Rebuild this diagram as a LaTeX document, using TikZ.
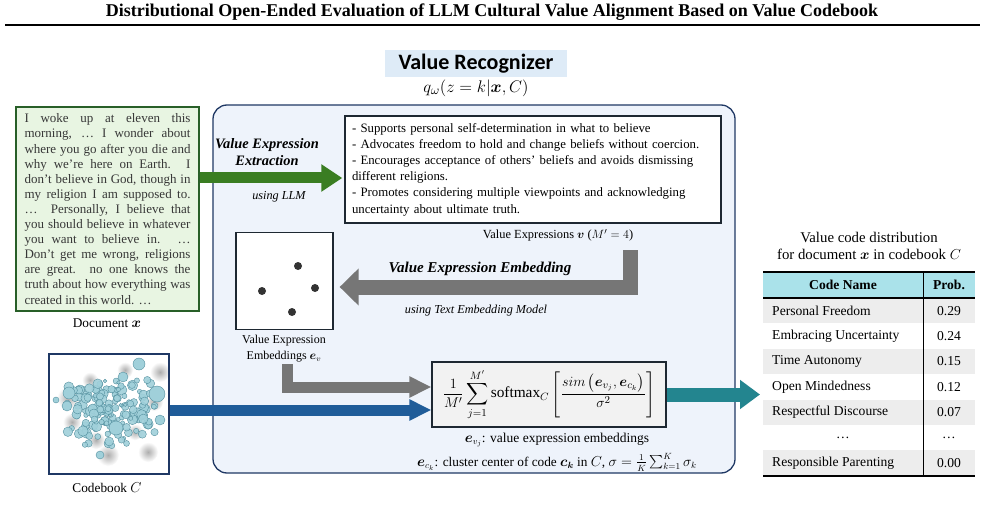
\documentclass[tikz,border=0pt]{standalone}
\usepackage{amsmath,amssymb}
\usepackage{fontspec}
\setmainfont{Liberation Serif}
\newfontfamily\tagfont{Carlito}
\usetikzlibrary{arrows.meta,positioning,calc}
\definecolor{navy}{RGB}{31,56,100}
\definecolor{darkedge}{RGB}{30,40,50}
\definecolor{boxblue}{RGB}{238,243,251}
\definecolor{tagblue}{RGB}{222,235,247}
\definecolor{docgreen}{RGB}{232,245,226}
\definecolor{docedge}{RGB}{40,95,40}
\definecolor{inkgray}{RGB}{55,55,55}
\definecolor{arrgreen}{RGB}{58,125,34}
\definecolor{arrgray}{RGB}{118,118,118}
\definecolor{arrblue}{RGB}{31,92,153}
\definecolor{arrteal}{RGB}{35,133,143}
\definecolor{headcyan}{RGB}{170,226,234}
\definecolor{rowgray}{RGB}{237,237,237}
\definecolor{formgray}{RGB}{242,242,242}
\definecolor{bubble}{RGB}{160,208,218}
\definecolor{bubbleedge}{RGB}{85,145,160}

\begin{document}
\begin{tikzpicture}[
  x=1pt,y=-1pt,
  every node/.style={inner sep=0pt},
  note/.style={font=\fontsize{12.4}{16}\selectfont,align=center},
  head/.style={font=\fontsize{14.4}{17}\bfseries\itshape\selectfont,align=center},
  howto/.style={font=\fontsize{12.2}{14}\itshape\selectfont},
  card/.style={draw=darkedge,line width=1.3pt,fill=white},
  cell/.style={font=\fontsize{13.6}{15}\selectfont},
  blockarr/.style n args={3}{line width=#1,line join=miter,-{Triangle[length=#2,width=#3]}},
]
\useasboundingbox (0,0) rectangle (985,513);

% title
\node[font=\fontsize{18}{20}\bfseries\selectfont] (title) at (492,12) {Distributional Open-Ended Evaluation of LLM Cultural Value Alignment Based on Value Codebook};
\draw[line width=1.6pt] (5,25) -- (980,25);

% recognizer frame
\node[draw=navy,line width=1.3pt,fill=boxblue,rounded corners=14pt,minimum width=522,minimum height=368] (recog) at (474,289) {};
\node[fill=tagblue,minimum width=182,minimum height=27,font=\tagfont\fontsize{22}{24}\bfseries\selectfont] (rectag) at (476,63.5) {Value Recognizer};
\node[font=\fontsize{13}{15}\selectfont] (qform) at (476,88) {\scalebox{1.4}{$q_\omega(z=k|\boldsymbol{x},C)$}};

% document
\node[draw=docedge,line width=1.3pt,fill=docgreen,text width=166,inner xsep=8.5pt,inner ysep=5pt,minimum height=204,align=justify,text=inkgray,font=\fontsize{13}{15.1}\selectfont] (doc) at (107.5,209) {I woke up at eleven this\linebreak morning, … I wonder about\linebreak where you go after you die and\linebreak why we’re here on Earth. I\linebreak don’t believe in God, though in\linebreak my religion I am supposed to.\linebreak …\ \ Personally, I believe that\linebreak you should believe in whatever\linebreak you want to believe in. …\linebreak Don’t get me wrong, religions\linebreak are great. no one knows the\linebreak truth about how everything was\linebreak created in this world. …};
\node[note,font=\fontsize{13.3}{15}\selectfont] (doclbl) at (107,323) {Document $\boldsymbol{x}$};

% extraction
\node[head] (extr) at (267,152) {Value Expression\\Extraction};
\node[howto] (usellm) at (279,197) {using LLM};
\node[card,text width=362,inner sep=7pt,minimum height=103,align=left,font=\fontsize{12.8}{16.2}\selectfont] (vexp) at (533,169.5) {- Supports personal self-determination in what to believe\\- Advocates freedom to hold and change beliefs without coercion.\\- Encourages acceptance of others’ beliefs and avoids dismissing\\different religions.\\- Promotes considering multiple viewpoints and acknowledging\\uncertainty about ultimate truth.};
\node[note] (vexplbl) at (558,235) {Value Expressions $\boldsymbol{v}$ ($M'=4$)};

% embedding
\node[card,minimum size=97] (embsq) at (284.5,281) {};
\foreach \px/\py in {298/266,262/291,315/288,292/312}
  \fill[black!80] (\px,\py) circle (4);
\node[note,font=\fontsize{12}{16}\selectfont] (emblbl) at (284,349) {Value Expression\\Embeddings $\boldsymbol{e}_v$};
\node[head,font=\fontsize{15}{17}\bfseries\itshape\selectfont] (embtitle) at (480,269) {Value Expression Embedding};
\node[howto] (embmodel) at (476,311) {using Text Embedding Model};

% score
\node[card,fill=formgray,minimum width=234,minimum height=65,font=\fontsize{13}{15}\selectfont] (score) at (549,394.5) {\scalebox{1.18}{$\displaystyle \frac{1}{M'}\sum_{j=1}^{M'}\mathrm{softmax}_C\left[\frac{sim\left(\boldsymbol{e}_{v_j},\boldsymbol{e}_{c_k}\right)}{\sigma^2}\right]$}};
\node[note,font=\fontsize{13.5}{16}\selectfont] (evj) at (557,440) {$\boldsymbol{e}_{v_j}$: value expression embeddings};
\node[note,font=\fontsize{13.3}{16}\selectfont] (eck) at (557,462) {$\boldsymbol{e}_{c_k}$: cluster center of code $\boldsymbol{c_k}$ in $C$, $\sigma=\frac{1}{K}\sum_{k=1}^{K}\sigma_k$};

% codebook
\node[draw=navy,line width=2pt,fill=white,minimum size=120] (codebook) at (108.5,413.5) {};
\begin{scope}
  \clip (49.5,354.5) rectangle (167.5,472.5);
  \foreach \sx/\sy/\sr in {68/398/11,72/422/9,108/455/11,148/452/10,160/372/10,125/370/8,154/402/9,96/440/9,135/432/8,90/380/8}
    \shade[inner color=black!32,outer color=white] (\sx,\sy) circle (\sr);
  \pgfmathsetseed{11}
  \foreach \k in {1,...,165} {
    \pgfmathsetmacro\bx{111+27*(rand+rand)}
    \pgfmathsetmacro\by{411+19*(rand+rand)}
    \pgfmathsetmacro\br{1.8+3.4*rnd}
    \filldraw[fill=bubble,draw=bubbleedge,line width=0.4pt,fill opacity=0.9] (\bx,\by) circle (\br);
  }
  \foreach \bx/\by/\br in {139/364/6,123/377/5,69/393/6,157/394/8,67/406/5,116/428/7,56/400/3,160/420/5,100/455/4}
    \filldraw[fill=bubble,draw=bubbleedge,line width=0.4pt] (\bx,\by) circle (\br);
\end{scope}
\node[note,font=\fontsize{13.3}{15}\selectfont] (cblbl) at (107,488) {Codebook $C$};

% arrows
\coordinate (gy) at (0,178);
\draw[blockarr={11pt}{21pt}{26pt},arrgreen] (doc.east |- gy) -- ([xshift=-2pt]vexp.west |- gy);
\coordinate (g1) at (630,250);
\coordinate (g1turn) at (630,287);
\draw[blockarr={15pt}{19pt}{36pt},arrgray,shorten >=6pt] (g1) |- (embsq.east |- g1turn);
\coordinate (g2) at (287,364);
\coordinate (g2turn) at (287,387);
\draw[blockarr={11pt}{22pt}{20pt},arrgray] (g2) |- (score.west |- g2turn);
\coordinate (by) at (0,410);
\draw[blockarr={11pt}{22pt}{20pt},arrblue] (codebook.east |- by) -- (score.west |- by);
\coordinate (tabw) at (763,0);
\draw[blockarr={14pt}{20pt}{28pt},arrteal,shorten >=3pt] (score.east) -- (score.east -| tabw);

% table
\node[note,font=\fontsize{14.8}{16.5}\selectfont] (tabtitle) at (869,246) {Value code distribution\\for document $\boldsymbol{x}$ in codebook $C$};
\fill[headcyan] (763,272) rectangle (975,298);
\node[cell,font=\fontsize{13.6}{15}\bfseries\selectfont] (hname) at (843,285) {Code Name};
\node[cell,font=\fontsize{13.6}{15}\bfseries\selectfont] (hprob) at (949,285) {Prob.};
\foreach \name/\prob [count=\i] in {Personal Freedom/0.29,Embracing Uncertainty/0.24,Time Autonomy/0.15,Open Mindedness/0.12,Respectful Discourse/0.07,…/…,Responsible Parenting/0.00} {
  \pgfmathsetmacro\ytop{298+25.4*(\i-1)}
  \pgfmathsetmacro\ymid{\ytop+12.7}
  \pgfmathtruncatemacro\rowpct{100*mod(\i,2)}
  \fill[rowgray!\rowpct!white] (763,\ytop) rectangle (975,\ytop+25.4);
  \ifnum\i=6
    \node[cell] (name\i) at (843,\ymid) {\name};
  \else
    \node[cell,anchor=west] (name\i) at (772,\ymid) {\name};
  \fi
  \node[cell] (prob\i) at (949,\ymid) {\prob};
}
\draw[line width=1.5pt] (763,272) -- (975,272);
\draw[line width=1.2pt] (763,298) -- (975,298);
\draw[line width=1.5pt] (763,476) -- (975,476);
\draw[line width=0.8pt] (923,272) -- (923,476);

\end{tikzpicture}
\end{document}
